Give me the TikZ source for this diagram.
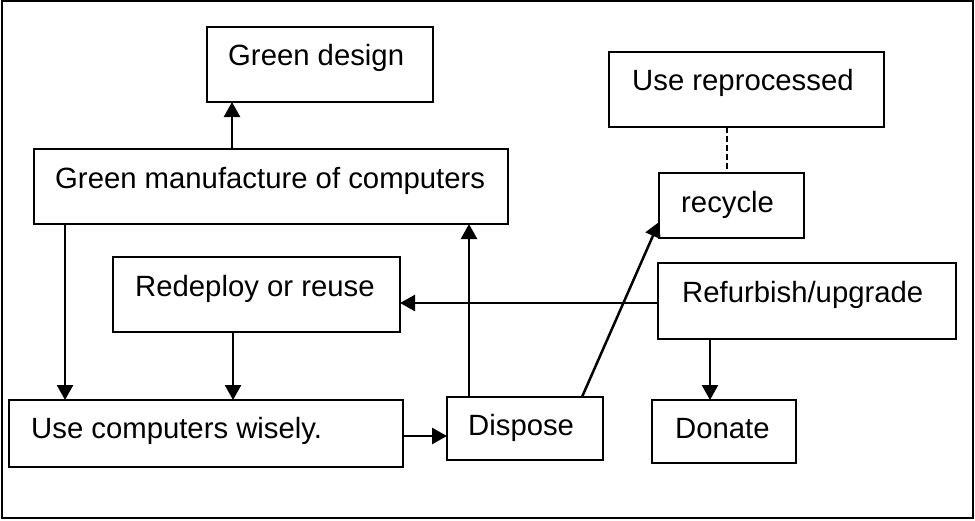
\documentclass[tikz,border=0pt]{standalone}
\usepackage{fontspec}
\setmainfont{Liberation Sans}
\usetikzlibrary{arrows.meta}

\begin{document}
\begin{tikzpicture}[x=1pt,y=-1pt,
  box/.style={draw, line width=2.6pt, inner sep=0pt, outer sep=0pt, anchor=north west},
  lbl/.style={anchor=base west, inner sep=0pt, font=\fontsize{29.3}{35}\selectfont},
  conn/.style={line width=2.5pt},
  arr/.style={conn, -{Triangle[length=15pt,width=16pt]}},
  dashlink/.style={conn, dash pattern=on 6pt off 3pt}]

  % page extent and outer frame
  \useasboundingbox (0,0) rectangle (975,520);
  \draw[line width=1.4pt] (2,1) rectangle (973,518);

  % boxes
  \node[box, minimum width=226pt, minimum height=75pt] (gd)  at (207,27)  {};
  \node[box, minimum width=474pt, minimum height=75pt] (gm)  at (34,149)  {};
  \node[box, minimum width=287pt, minimum height=75pt] (rr)  at (113,257) {};
  \node[box, minimum width=394pt, minimum height=67pt] (ucw) at (9,400)   {};
  \node[box, minimum width=156pt, minimum height=63pt] (dsp) at (447,397) {};
  \node[box, minimum width=144pt, minimum height=63pt] (don) at (652,400) {};
  \node[box, minimum width=298pt, minimum height=76pt] (ref) at (658,263) {};
  \node[box, minimum width=145pt, minimum height=65pt] (rec) at (659,173) {};
  \node[box, minimum width=275pt, minimum height=75pt] (urp) at (609,52)  {};

  % box texts
  \node[lbl] (tgd)  at (228,65)  {Green design};
  \node[lbl] (tgm)  at (55,188)  {Green manufacture of computers};
  \node[lbl] (trr)  at (135,296) {Redeploy or reuse};
  \node[lbl] (tucw) at (31,438)  {Use computers wisely.};
  \node[lbl] (tdsp) at (468,435) {Dispose};
  \node[lbl] (tdon) at (675,438) {Donate};
  \node[lbl] (tref) at (682,302) {Refurbish/upgrade};
  \node[lbl] (trec) at (681,212) {recycle};
  \node[lbl] (turp) at (632,90)  {Use reprocessed};

  % connectors
  \draw[arr] ([xshift=198pt]gm.north west) -- ([xshift=25pt]gd.south west);
  \draw[arr] ([xshift=31pt]gm.south west) -- ([xshift=56pt]ucw.north west);
  \draw[arr] ([xshift=120pt]rr.south west) -- ([xshift=224pt]ucw.north west);
  \draw[arr] ([yshift=-2.5pt]ucw.east) coordinate (ue) -- (ue -| dsp.west);
  \draw[arr] ([xshift=22pt]dsp.north west) -- ([xshift=435pt]gm.south west);
  \draw[arr] ([xshift=135pt]dsp.north west) -- ([yshift=-49pt]rec.north west);
  \draw[arr] ([yshift=-2pt]ref.west) coordinate (rw) -- (rw -| rr.east);
  \draw[arr] ([xshift=52pt]ref.south west) coordinate (rs) -- (rs |- don.north);
  \draw[dashlink] ([xshift=118pt]urp.south west) coordinate (us) -- (us |- rec.north);
\end{tikzpicture}
\end{document}
